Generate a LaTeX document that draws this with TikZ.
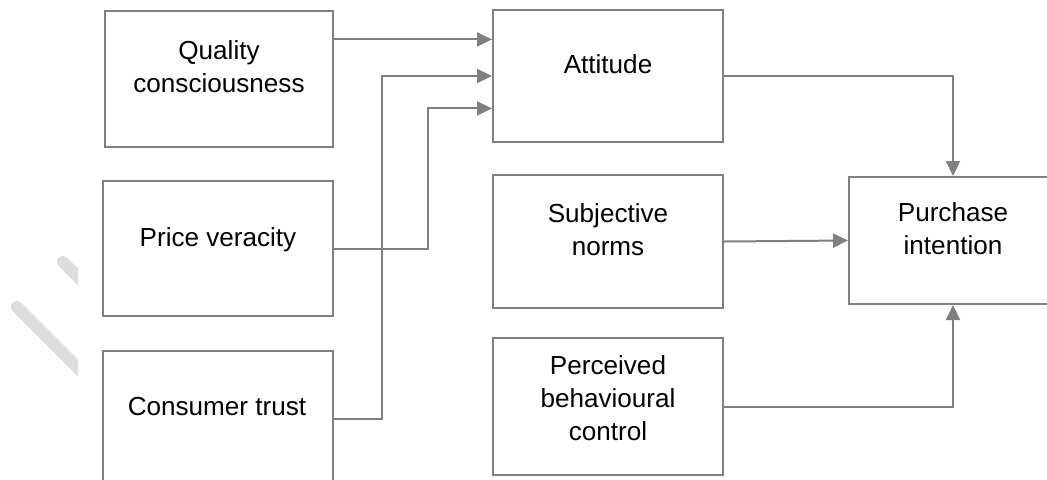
\documentclass[tikz,border=0pt]{standalone}
\usepackage{fontspec}
\setmainfont{Liberation Sans}
\usetikzlibrary{arrows.meta,calc}
\definecolor{linegray}{RGB}{128,128,128}
\definecolor{wmgray}{RGB}{221,221,221}

\begin{document}
\begin{tikzpicture}[x=0.5pt,y=0.5pt]
  \tikzset{
    box/.style={draw=linegray, line width=1pt, inner sep=0pt,
                minimum width=115pt, minimum height=67pt},
    txt/.style={align=center, inner sep=0pt,
                font=\fontsize{13.05}{16.4}\selectfont},
    arr/.style={draw=linegray, line width=1pt,
                -{Triangle[length=7.5pt,width=7pt]}}
  }
  \clip (0,0) rectangle (1047,479);

  % Watermark traces
  \begin{scope}
    \clip (0,0) rectangle (78,479);
    \draw[wmgray, line width=6pt, line cap=round] (63,217) -- (90,190);
    \draw[wmgray, line width=6pt, line cap=round] (17,172) -- (100,89);
  \end{scope}

  % Antecedents
  \node[box, minimum width=114pt, minimum height=68pt] (qc) at (219,400) {};
  \node[box, minimum height=67.5pt] (pv) at (218,230.5) {};
  \node[box, minimum height=68pt]   (ct) at (218,60) {};

  % TPB constructs
  \node[box, minimum height=66pt]   (att) at (608,403) {};
  \node[box, minimum height=66.5pt] (sn)  at (608,237.5) {};
  \node[box, minimum height=68.5pt] (pbc) at (608,72.5) {};
  \node[box, minimum width=104pt, minimum height=63.5pt] (pi) at (953,238.5) {};

  % Box texts
  \node[txt] (qc-t)  at (219,412) {Quality\\consciousness};
  \node[txt] (pv-t)  at (218,239) {Price veracity};
  \node[txt] (ct-t)  at (217,72)  {Consumer trust};
  \node[txt] (att-t) at (608,415) {Attitude};
  \node[txt] (sn-t)  at (608,249) {Subjective\\norms};
  \node[txt] (pbc-t) at (608,81)  {Perceived\\behavioural\\control};
  \node[txt] (pi-t)  at (953,250) {Purchase\\intention};

  % Entry points on Attitude
  \coordinate (a1) at ($(att.north west)!0.227!(att.south west)$);
  \coordinate (a3) at ($(att.north west)!0.742!(att.south west)$);

  % Paths into Attitude
  \draw[arr] (qc.east |- a1) -- (a1);
  \draw[arr] (ct.east) -- ++(48,0) |- (att.west);
  \draw[arr] (pv.east) -- ++(94,0) |- (a3);

  % Paths into Purchase intention
  \draw[arr] (att.east) -| (pi.north);
  \draw[arr] (sn.east) -- (pi.west);
  \draw[arr] (pbc.east) -| (pi.south);
\end{tikzpicture}
\end{document}
